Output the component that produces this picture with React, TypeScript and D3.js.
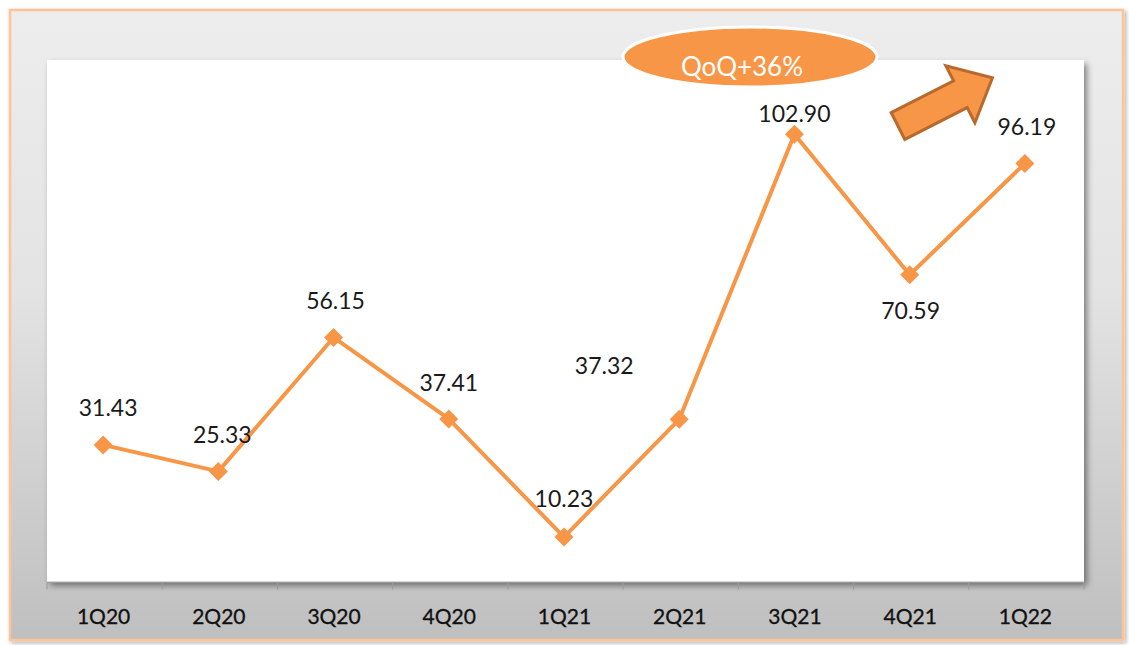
import React from "react";
import * as d3 from "d3";

const categories = ["1Q20", "2Q20", "3Q20", "4Q20", "1Q21", "2Q21", "3Q21", "4Q21", "1Q22"];
const values = [31.43, 25.33, 56.15, 37.41, 10.23, 37.32, 102.9, 70.59, 96.19];
const valueLabels = ["31.43", "25.33", "56.15", "37.41", "10.23", "37.32", "102.90", "70.59", "96.19"];
const labelDx = [5, 4, 2, 0, 0, -75, 0, 1, 2];
const labelDy = [-37, -36, -37, -36, -38, -53, -20, 36, -37];
const badgeText = "QoQ+36%";

const W = 1129;
const H = 645;
const plot = { left: 47, right: 1084, top: 60, bottom: 581.5 };
const ORANGE = "#F79646";
const FONT = "Lato, 'Open Sans', sans-serif";

export default function App() {
  const x = d3.scaleBand<string>().domain(categories).range([plot.left, plot.right]).padding(0);
  const y = d3.scaleLinear().domain([0, 120]).range([plot.bottom, plot.top]);
  const cx = (c: string) => (x(c) as number) + x.bandwidth() / 2 - 1.5;
  const line = d3
    .line<number>()
    .x((_, i) => cx(categories[i]))
    .y((v) => y(v));
  const ticks = [...categories.map((c) => x(c) as number), plot.right];
  const diamond = d3.symbol().type(d3.symbolDiamond2).size(230)();
  const arrowPath = "M0,-15 L70,-15 L70,-32 L106,0 L70,32 L70,15 L0,15 Z";

  return (
    <svg width={W} height={H} style={{ position: "absolute", left: 0, top: 0 }}>
      <defs>
        <linearGradient id="bg" x1="0" y1="0" x2="0" y2="1">
          <stop offset="0" stopColor="#EDEDED" />
          <stop offset="0.45" stopColor="#E3E3E3" />
          <stop offset="1" stopColor="#BFBFBF" />
        </linearGradient>
        <filter id="outerShadow" x="-5%" y="-5%" width="110%" height="110%">
          <feDropShadow dx="2" dy="2" stdDeviation="2" floodColor="#000" floodOpacity="0.3" />
        </filter>
        <filter id="innerShadow" x="-5%" y="-5%" width="110%" height="115%">
          <feDropShadow dx="3" dy="4" stdDeviation="3" floodColor="#000" floodOpacity="0.45" />
        </filter>
      </defs>
      <rect x={0} y={0} width={W} height={H} fill="#fff" />
      <rect x={10} y={10} width={1113} height={630} fill="url(#bg)" stroke="#FFC495" strokeWidth={2.5} filter="url(#outerShadow)" />
      <rect x={plot.left} y={plot.top} width={plot.right - plot.left} height={plot.bottom - plot.top} fill="#fff" filter="url(#innerShadow)" />
      <line x1={plot.left} x2={plot.right} y1={plot.bottom + 1} y2={plot.bottom + 1} stroke="#9A9A9A" strokeWidth={1} />
      {ticks.map((t, i) => (
        <line key={i} x1={t} x2={t} y1={plot.bottom + 1} y2={plot.bottom + 8} stroke="#9A9A9A" strokeWidth={1} />
      ))}
      {categories.map((c) => (
        <text
          key={c}
          x={(x(c) as number) + x.bandwidth() / 2 - 1}
          y={624}
          textAnchor="middle"
          fontFamily={FONT}
          fontWeight="normal"
          fontSize={21}
          fill="#111"
          stroke="#111"
          strokeWidth={0.3}
        >
          {c}
        </text>
      ))}
      <path d={line(values) || ""} fill="none" stroke={ORANGE} strokeWidth={4} strokeLinejoin="round" />
      {values.map((v, i) => (
        <path key={i} d={diamond || ""} transform={`translate(${cx(categories[i])},${y(v)})`} fill={ORANGE} />
      ))}
      {values.map((v, i) => (
        <text
          key={"l" + i}
          x={cx(categories[i]) + labelDx[i]}
          y={y(v) + labelDy[i]}
          dy="0.35em"
          textAnchor="middle"
          fontFamily={FONT}
          fontSize={23}
          fill="#1a1a1a"
        >
          {valueLabels[i]}
        </text>
      ))}
      <ellipse cx={750} cy={57} rx={127} ry={30} fill={ORANGE} stroke="#fff" strokeWidth={3} />
      <text x={742} y={76} textAnchor="middle" fontFamily={FONT} fontSize={26} fill="#fff">
        {badgeText}
      </text>
      <path d={arrowPath} transform="translate(898,126) rotate(-27)" fill={ORANGE} stroke="#B86A2E" strokeWidth={3} strokeLinejoin="miter" />
    </svg>
  );
}
